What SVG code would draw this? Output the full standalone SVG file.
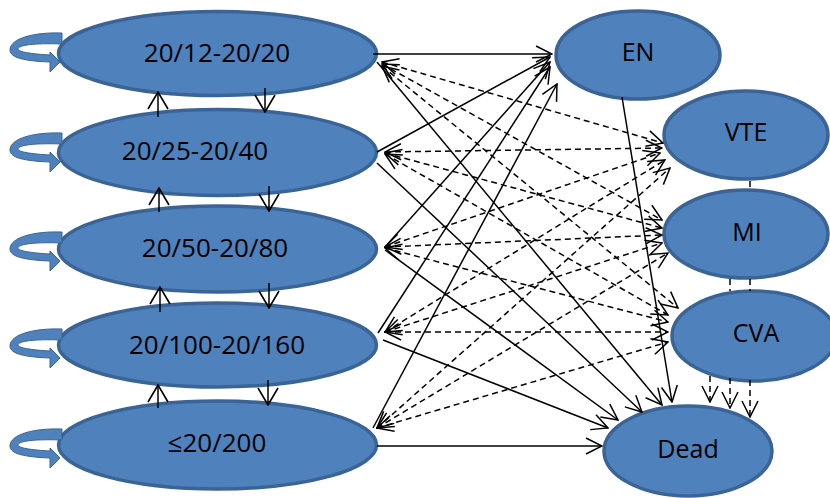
<svg xmlns="http://www.w3.org/2000/svg" width="830" height="498" viewBox="0 0 830 498">
<style>
.n{fill:#4f81bd;stroke:#3a6495;stroke-width:3.5}
.t{font-family:"Open Sans","Liberation Sans",sans-serif;font-size:26px;fill:#000;text-anchor:middle}
.tr{font-size:25px}
.s{fill:none;stroke:#000;stroke-width:1.5}
.d{fill:none;stroke:#000;stroke-width:1.5;stroke-dasharray:6 4}
.loop{fill:#4f81bd;stroke:#3a6495;stroke-width:1}
</style>
<defs>
<marker id="a" markerUnits="userSpaceOnUse" markerWidth="18" markerHeight="18" viewBox="0 0 18 18" refX="17" refY="9" orient="auto-start-reverse">
<path d="M1,1 L17,9 L1,17" fill="none" stroke="#000" stroke-width="1.5"/>
</marker>
<marker id="b" markerUnits="userSpaceOnUse" markerWidth="19" markerHeight="22" viewBox="0 0 19 22" refX="18" refY="11" orient="auto">
<path d="M1,1 L18,11 L1,21" fill="none" stroke="#000" stroke-width="1.6"/>
</marker>
<path id="lp" class="loop" d="M62,-20 C35,-21 10,-15 10,-3 C10,5 25,8 50,9 L50,19 L60,9 L50,-1 L50,2 C32,1 18,-1 18,-4 C18,-8 35,-10 62,-9 Z"/>
</defs>

<g id="s1"><ellipse class="n" cx="217.5" cy="53.5" rx="159" ry="42"/><text class="t" x="217" y="62">20/12-20/20</text></g>
<g id="s2"><ellipse class="n" cx="217.5" cy="152.5" rx="159" ry="43"/><text class="t" x="195" y="160">20/25-20/40</text></g>
<g id="s3"><ellipse class="n" cx="217.5" cy="249" rx="159" ry="43"/><text class="t" x="215" y="257">20/50-20/80</text></g>
<g id="s4"><ellipse class="n" cx="217.5" cy="345" rx="159" ry="42"/><text class="t" x="217" y="354">20/100-20/160</text></g>
<g id="s5"><ellipse class="n" cx="217.5" cy="445" rx="159" ry="44"/><text class="t" x="217" y="452">≤20/200</text></g>

<g id="en"><ellipse class="n" cx="638" cy="55" rx="82" ry="44"/><text class="t tr" x="638" y="61">EN</text></g>
<g id="vte"><ellipse class="n" cx="746" cy="135" rx="82" ry="44"/><text class="t tr" x="746" y="141">VTE</text></g>
<g id="mi"><ellipse class="n" cx="746" cy="234" rx="82" ry="44"/><text class="t tr" x="747" y="241">MI</text></g>
<g id="cva"><ellipse class="n" cx="754" cy="336" rx="82" ry="45"/><text class="t tr" x="756" y="342">CVA</text></g>
<g id="dead"><ellipse class="n" cx="688" cy="451" rx="84" ry="45"/><text class="t tr" x="688" y="458">Dead</text></g>

<g id="connectors">
<use href="#lp" transform="translate(0,53)"/>
<use href="#lp" transform="translate(0,153)"/>
<use href="#lp" transform="translate(0,252)"/>
<use href="#lp" transform="translate(0,349)"/>
<use href="#lp" transform="translate(0,449)"/>

<g class="s" marker-end="url(#b)">
<line x1="158" y1="117" x2="158" y2="92"/>
<line x1="265" y1="88" x2="265" y2="112"/>
<line x1="159" y1="212" x2="159" y2="188"/>
<line x1="269" y1="186" x2="269" y2="211"/>
<line x1="160" y1="312" x2="160" y2="287"/>
<line x1="269" y1="283" x2="269" y2="308"/>
<line x1="158" y1="408" x2="158" y2="385"/>
<line x1="268" y1="380" x2="268" y2="405"/>
</g>

<g class="s" marker-end="url(#a)">
<line x1="373" y1="54" x2="552" y2="54"/>
<line x1="377" y1="152" x2="550" y2="57"/>
<line x1="385" y1="247" x2="550" y2="62"/>
<line x1="378" y1="333" x2="550" y2="67"/>
<line x1="373" y1="428" x2="557" y2="84"/>
<line x1="377" y1="62" x2="662" y2="405"/>
<line x1="377" y1="163" x2="642" y2="412"/>
<line x1="385" y1="250" x2="618" y2="420"/>
<line x1="383" y1="340" x2="608" y2="428"/>
<line x1="377" y1="446" x2="602" y2="446"/>
<line x1="622" y1="97" x2="672" y2="402"/>
</g>

<g class="d" marker-start="url(#a)" marker-end="url(#a)">
<line x1="382" y1="62" x2="663" y2="143"/>
<line x1="382" y1="64" x2="662" y2="220"/>
<line x1="382" y1="66" x2="678" y2="308"/>
<line x1="385" y1="152" x2="662" y2="148"/>
<line x1="385" y1="153" x2="662" y2="228"/>
<line x1="385" y1="154" x2="668" y2="315"/>
<line x1="385" y1="247" x2="660" y2="153"/>
<line x1="385" y1="247" x2="662" y2="235"/>
<line x1="385" y1="248" x2="668" y2="322"/>
<line x1="385" y1="332" x2="665" y2="160"/>
<line x1="385" y1="332" x2="662" y2="243"/>
<line x1="385" y1="332" x2="668" y2="332"/>
<line x1="377" y1="428" x2="670" y2="168"/>
<line x1="377" y1="428" x2="668" y2="253"/>
<line x1="377" y1="428" x2="668" y2="342"/>
</g>

<g class="d">
<line x1="750" y1="181" x2="750" y2="190"/>
<line x1="730" y1="279" x2="730" y2="291"/>
<line x1="750" y1="279" x2="750" y2="291"/>
</g>
<g class="d" marker-end="url(#a)">
<line x1="710" y1="376" x2="710" y2="402"/>
<line x1="730" y1="378" x2="730" y2="408"/>
<line x1="750" y1="380" x2="750" y2="417"/>
</g>
</g>
</svg>
